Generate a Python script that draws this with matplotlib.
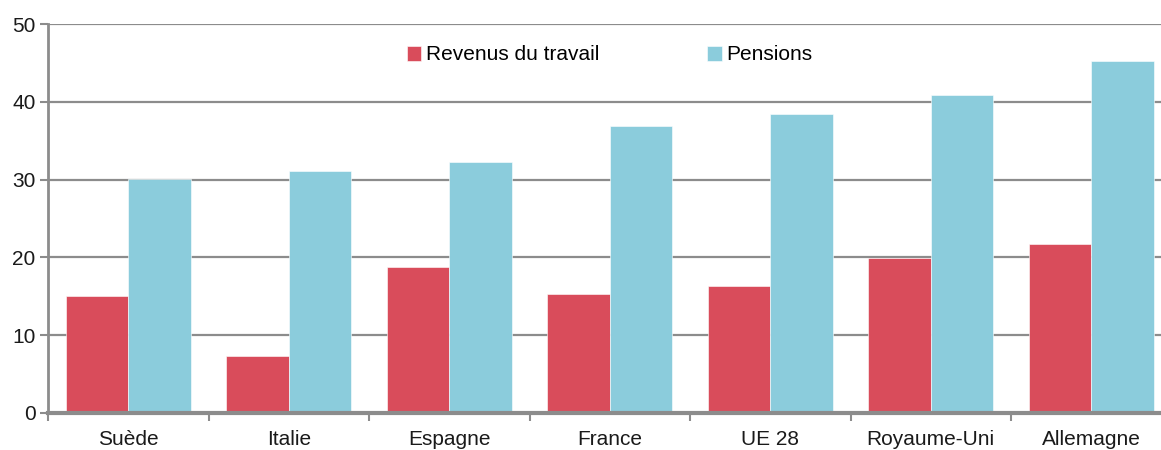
import numpy as np
import matplotlib.pyplot as plt
from matplotlib.ticker import FixedLocator, NullFormatter

pays = ['Suède', 'Italie', 'Espagne', 'France', 'UE 28', 'Royaume-Uni', 'Allemagne']
revenus = [15.0, 7.3, 18.8, 15.3, 16.3, 19.9, 21.7]
pensions = [30.1, 31.1, 32.3, 36.9, 38.4, 40.9, 45.2]

rouge = '#D94C5B'
bleu = '#8BCCDC'
gris = '#8C8C8C'

# pas de police "narrow" dispo -> Liberation Sans (métrique Arial)
plt.rcParams['font.family'] = ['Liberation Sans', 'DejaVu Sans']
plt.rcParams['font.size'] = 15

fig = plt.figure(figsize=(11.61, 4.5), dpi=100)
ax = fig.add_axes([48 / 1161, 37 / 450, 1 - 48 / 1161, 389 / 450])

x = np.arange(len(pays))
w = 0.39
ax.bar(x - w / 2, revenus, w, color=rouge, edgecolor='white', linewidth=0.4,
       label='Revenus du travail', zorder=3)
ax.bar(x + w / 2, pensions, w, color=bleu, edgecolor='white', linewidth=0.4,
       label='Pensions', zorder=3)

ax.set_ylim(0, 50)
ax.set_xlim(-0.5, (1161 - 48) / 160.5 - 0.5)
ax.set_yticks(range(0, 51, 10))
ax.yaxis.grid(True, color=gris, linewidth=1.6, zorder=0)
ax.set_axisbelow(True)

ax.set_xticks(x)
ax.set_xticklabels(pays, color='#1a1a1a')
ax.tick_params(axis='x', length=0, pad=12)
ax.xaxis.set_minor_locator(FixedLocator(np.arange(-0.5, 7, 1)))
ax.xaxis.set_minor_formatter(NullFormatter())
ax.tick_params(axis='x', which='minor', length=6, width=1.5, color=gris, direction='out')
ax.tick_params(axis='y', length=6, width=1.5, color=gris, pad=3, labelcolor='#1a1a1a')

for s in ['top', 'right']:
    ax.spines[s].set_visible(False)
ax.spines['left'].set_color(gris)
ax.spines['left'].set_linewidth(2)
ax.spines['bottom'].set_color(gris)
ax.spines['bottom'].set_linewidth(3)
ax.spines['bottom'].set_zorder(4)

fig.legend(loc='center', bbox_to_anchor=(0.525, 1 - 55 / 450), ncol=2, frameon=False,
           handlelength=0.7, handleheight=0.7, handletextpad=0.2, columnspacing=5.2)

fig.savefig('out.png', dpi=100)
